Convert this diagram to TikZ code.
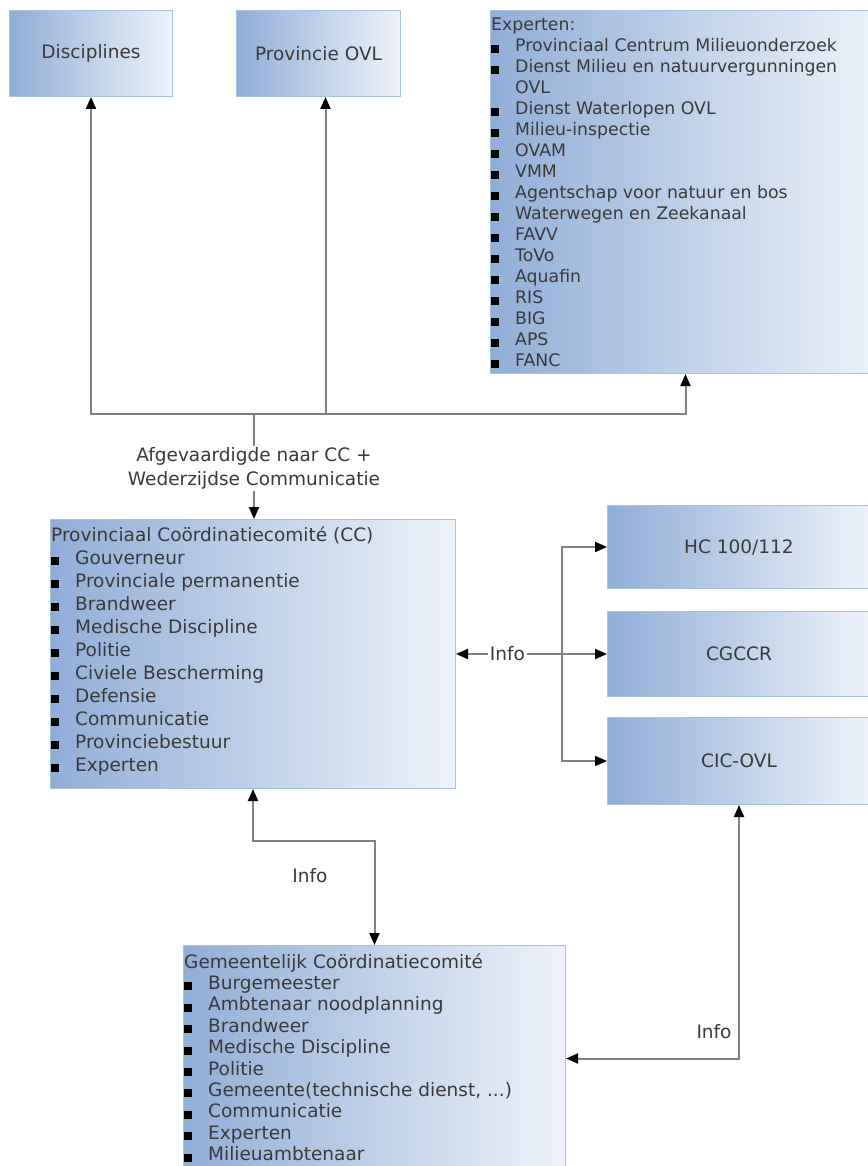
\documentclass[tikz,border=0pt]{standalone}
\usepackage{fontspec}
\setmainfont{DejaVu Sans}
\usetikzlibrary{arrows.meta}

\definecolor{boxleft}{HTML}{90AED8}
\definecolor{boxright}{HTML}{EEF3FA}
\definecolor{boxline}{HTML}{A9C1E2}
\definecolor{boxtext}{HTML}{3A3A3A}
\definecolor{linegray}{HTML}{808080}

\newcommand{\bul}{\makebox[24pt][l]{\color{black}\rule[-1pt]{8pt}{8pt}}}

\tikzset{
  blok/.style={draw=boxline, line width=1pt, left color=boxleft, right color=boxright,
    text=boxtext, anchor=north west, inner sep=0pt, font=\fontsize{18.5}{22}\selectfont},
  lijst/.style={anchor=north west, align=left, text=boxtext, inner xsep=1pt, inner ysep=8pt},
  verbind/.style={draw=linegray, line width=2pt, -{Triangle[length=12pt,width=10pt,color=black]}},
  dubbel/.style={draw=linegray, line width=2pt,
    {Triangle[length=12pt,width=10pt,color=black]}-{Triangle[length=12pt,width=10pt,color=black]}},
  tekst/.style={text=boxtext, font=\fontsize{18.5}{24}\selectfont, fill=white, inner sep=2pt, align=center}
}

\begin{document}
\begin{tikzpicture}[x=1pt,y=-1pt]
  \useasboundingbox (0,0) rectangle (867,1166);

  % bovenste rij
  \node[blok, minimum width=163pt, minimum height=86pt] (disc) at (9,10) {Disciplines};
  \node[blok, minimum width=164pt, minimum height=86pt] (prov) at (236,10) {Provincie OVL};
  \node[blok, minimum width=390pt, minimum height=363pt] (exp) at (490,10) {};
  \node[lijst, font=\fontsize{17.3}{21}\selectfont] (exptxt) at (exp.north west) {Experten:\\
    \bul Provinciaal Centrum Milieuonderzoek\\
    \bul Dienst Milieu en natuurvergunningen\\
    \hspace*{24pt}OVL\\
    \bul Dienst Waterlopen OVL\\
    \bul Milieu-inspectie\\
    \bul OVAM\\
    \bul VMM\\
    \bul Agentschap voor natuur en bos\\
    \bul Waterwegen en Zeekanaal\\
    \bul FAVV\\
    \bul ToVo\\
    \bul Aquafin\\
    \bul RIS\\
    \bul BIG\\
    \bul APS\\
    \bul FANC};

  % coordinatiecomites
  \node[blok, minimum width=405pt, minimum height=269pt] (cc) at (50,519) {};
  \node[lijst, font=\fontsize{18.5}{23}\selectfont, inner ysep=7pt] (cctxt) at (cc.north west) {Provinciaal Coördinatiecomité (CC)\\
    \bul Gouverneur\\
    \bul Provinciale permanentie\\
    \bul Brandweer\\
    \bul Medische Discipline\\
    \bul Politie\\
    \bul Civiele Bescherming\\
    \bul Defensie\\
    \bul Communicatie\\
    \bul Provinciebestuur\\
    \bul Experten};
  \node[blok, minimum width=382pt, minimum height=226pt] (gc) at (183,945) {};
  \node[lijst, font=\fontsize{18.5}{21.4}\selectfont] (gctxt) at (gc.north west) {Gemeentelijk Coördinatiecomité\\
    \bul Burgemeester\\
    \bul Ambtenaar noodplanning\\
    \bul Brandweer\\
    \bul Medische Discipline\\
    \bul Politie\\
    \bul Gemeente(technische dienst, ...)\\
    \bul Communicatie\\
    \bul Experten\\
    \bul Milieuambtenaar};

  % rechts
  \node[blok, minimum width=263pt, minimum height=83pt] (hc) at (607,505) {HC 100/112};
  \node[blok, minimum width=263pt, minimum height=85pt] (cgccr) at (607,611) {CGCCR};
  \node[blok, minimum width=263pt, minimum height=87pt] (cic) at (607,717) {CIC-OVL};

  % verbindingen
  \coordinate (hub) at (254,414);
  \draw[verbind] (hub) -| (disc.south);
  \draw[verbind] (hub) -| ([xshift=7pt]prov.south);
  \draw[verbind] (hub) -| (exp.south);
  \draw[verbind] (hub) -- node[tekst, yshift=-2pt] (afg) {Afgevaardigde naar CC +\\Wederzijdse Communicatie} (hub |- cc.north);

  \draw[dubbel] (cc) -- node[tekst, pos=0.34] (info1) {Info} (cgccr);
  \coordinate (split) at (562,653.5);
  \draw[verbind] (split) |- (hc);
  \draw[verbind] (split) |- (cic);

  \coordinate (ccgc) at (0,841);
  \draw[dubbel] (cc.south) |- (gc.north |- ccgc) -- (gc.north);
  \node[tekst, fill=none] (info2) at (310,876) {Info};

  \draw[dubbel] (gc.east) -| (cic.south);
  \node[tekst, fill=none] (info3) at (714,1032) {Info};
\end{tikzpicture}
\end{document}
